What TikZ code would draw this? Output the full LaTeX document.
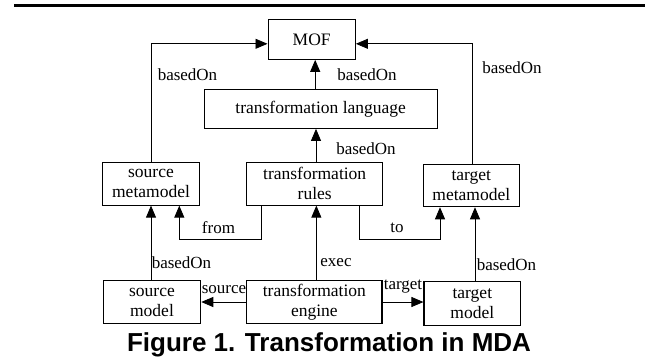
\documentclass[tikz,border=0pt]{standalone}
\usepackage{fontspec}
\setmainfont{Liberation Serif}
\newfontfamily\capfont{Liberation Sans}
\usetikzlibrary{arrows.meta}
\begin{document}
\begin{tikzpicture}[x=1pt,y=-1pt,
  box/.style={draw, line width=1.1pt, inner sep=0pt, align=center,
    font=\fontsize{17.5}{20}\selectfont},
  arr/.style={line width=0.8pt, -{Triangle[length=12pt,width=10pt]}},
  lbl/.style={inner sep=0pt, font=\fontsize{17}{20}\selectfont}]
\useasboundingbox (0,0) rectangle (653,360);

% heading rule
\draw[line width=3pt] (14,5.3) -- (644.7,5.3);

% boxes
\node[box, minimum width=87.3pt, minimum height=40pt] (MOF) at (311.7,39.3) {MOF};
\node[box, minimum width=233.3pt, minimum height=39pt] (tl) at (320.7,108.8) {transformation language};
\node[box, minimum width=96.6pt, minimum height=42.7pt] (srcmm) at (151,183.7) {source\\metamodel};
\node[box, minimum width=136pt, minimum height=42.7pt] (rules) at (314.7,183.7) {transformation\\rules};
\node[box, minimum width=96pt, minimum height=42.4pt] (tgtmm) at (471.3,185.5) {target\\metamodel};
\node[box, minimum width=97.4pt, minimum height=42.6pt] (srcmodel) at (152,302) {source\\model};
\node[box, minimum width=135.3pt, minimum height=42.6pt] (engine) at (314.35,302) {transformation\\engine};
\node[box, minimum width=96.7pt, minimum height=44pt] (tgtmodel) at (472.35,303.7) {target\\model};

% connectors
\draw[arr] (srcmm.north) |- ([yshift=-4.5pt]MOF.west);
\draw[arr] ([xshift=1.2pt]tgtmm.north) |- ([yshift=-4.5pt]MOF.east);
\draw[arr] ([xshift=-5.5pt]tl.north) -- ([xshift=-5.5pt]tl.north |- MOF.south);
\draw[arr] ([xshift=1.3pt]rules.north) -- ([xshift=1.3pt]rules.north |- tl.south);
\draw[arr] ([xshift=-53.7pt]rules.south) -- ++(0,33.3) -| ([xshift=28.3pt]srcmm.south);
\draw[arr] ([xshift=44.3pt]rules.south) -- ++(0,33.3) -| ([xshift=-31.3pt]tgtmm.south);
\draw[arr] ([xshift=-1pt]srcmodel.north) -- ([xshift=-1pt]srcmodel.north |- srcmm.south);
\draw[arr] ([xshift=2pt]engine.north) -- ([xshift=2pt]engine.north |- rules.south);
\draw[arr] ([xshift=2.65pt]tgtmodel.north) -- ([xshift=2.65pt]tgtmodel.north |- tgtmm.south);
\draw[arr] (engine.west) -- (engine.west -| srcmodel.east);
\draw[arr] (engine.east) -- (engine.east -| tgtmodel.west);

% connector labels
\node[lbl] (l1) at (187.5,75) {basedOn};
\node[lbl] (l2) at (367,75) {basedOn};
\node[lbl] (l3) at (512,68) {basedOn};
\node[lbl] (l4) at (366,149) {basedOn};
\node[lbl] (l5) at (218.5,228) {from};
\node[lbl] (l6) at (397,228) {to};
\node[lbl] (l7) at (181.5,263) {basedOn};
\node[lbl] (l8) at (336,263) {exec};
\node[lbl] (l9) at (506.5,265) {basedOn};
\node[lbl] (l10) at (224,290) {source};
\node[lbl] (l11) at (403,287) {target};

% caption
\node[anchor=base, inner sep=0pt, font=\capfont\bfseries\fontsize{26}{28}\selectfont] (cap) at (329,351.7) {Figure 1. Transformation in MDA};
\end{tikzpicture}
\end{document}
